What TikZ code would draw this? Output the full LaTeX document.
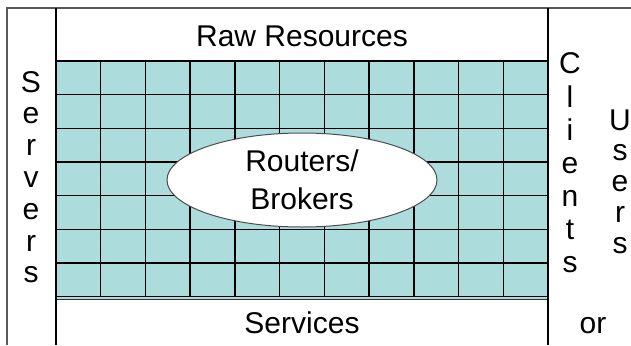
\documentclass[tikz,border=0pt]{standalone}
\usepackage{fontspec}
\setmainfont{Liberation Sans}
\usetikzlibrary{shapes.geometric}
\definecolor{gridteal}{RGB}{173,220,221}
\begin{document}
\begin{tikzpicture}[x=1pt,y=-1pt,
 lbl/.style={inner sep=0pt, font=\fontsize{30}{38}\selectfont},
 outer/.style={draw=black!65, line width=1.5pt},
 inner/.style={draw=black, line width=2pt},
 gridline/.style={draw=black, line width=1.4pt}]
\useasboundingbox (0,0) rectangle (631,345);
\fill[gridteal] (56,61) rectangle (548,300);
\foreach \k in {1,...,10} \draw[gridline] ({56+\k*44.727},61) -- ({56+\k*44.727},296.5);
\foreach \k in {1,...,6} \draw[gridline] (56,{61+\k*33.64}) -- (548,{61+\k*33.64});
\draw[gridline] (56,296.5) -- (548,296.5);
\draw[gridline, draw=black!80] (56,299.5) -- (548,299.5);
\draw[inner] (56,61) -- (548,61);
\draw[outer] (7,345) -- (7,8) -- (631,8);
\draw[inner] (56,8) -- (56,345);
\draw[inner] (548,8) -- (548,345);
\node[ellipse, draw=black!70, fill=white, line width=1pt, minimum width=270pt, minimum height=94pt, inner sep=0pt, lbl, align=center] (rb) at (302,180) {Routers/\\Brokers};
\node[lbl, anchor=base] (raw) at (302,46) {Raw Resources};
\node[lbl, anchor=base] (svc) at (302,333) {Services};
\node[lbl, anchor=base] (or) at (593,333) {or};
\foreach \c [count=\i] in {S,e,r,v,e,r,s}
  \node[lbl, anchor=base] (sv\i) at (31,{92+(\i-1)*31.8}) {\c};
\foreach \c [count=\i] in {C,l,i,e,n,t,s}
  \node[lbl, anchor=base] (cl\i) at (570,{74+(\i-1)*33}) {\c};
\foreach \c [count=\i] in {U,s,e,r,s}
  \node[lbl, anchor=base] (us\i) at (620,{130+(\i-1)*30.75}) {\c};
\end{tikzpicture}
\end{document}
